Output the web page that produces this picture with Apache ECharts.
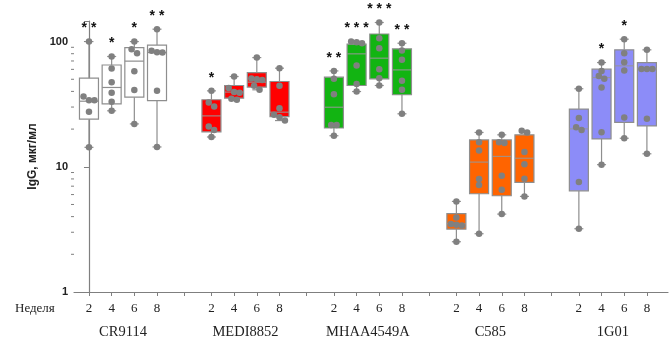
<!DOCTYPE html>
<html><head><meta charset="utf-8">
<script src="https://cdn.jsdelivr.net/npm/echarts@6/dist/echarts.min.js"></script>
<style>html,body{margin:0;padding:0;background:#fff}#c{width:669px;height:340px}</style>
</head><body><div id="c"></div>
<script>
// ---------- data ----------
const groups = ['CR9114', 'MEDI8852', 'MHAA4549A', 'C585', '1G01'];
const weeks = ['2', '4', '6', '8'];
const weekAxisTitle = 'Неделя';
const yAxisTitle = 'IgG, мкг/мл';
const yTickValues = [1, 10, 100];

const cr9114Q1 = [24, 31.8, 36, 33.8];
const cr9114Median = [33.4, 43, 69.8, 81.7];
const cr9114Q3 = [51, 65, 89.6, 93.6];
const cr9114Points = [
  [100, 36.4, 34, 34, 27.5, 14.3],
  [76, 61, 47.4, 39, 33, 28],
  [100, 87, 80.7, 58, 41, 22],
  [125.6, 84.3, 82.3, 81.7, 40.4, 14.4]
];
const cr9114Stars = ['**', '*', '*', '**'];

const medi8852Q1 = [19, 35.3, 43.3, 25.2];
const medi8852Median = [25.5, 39.5, 47.4, 27.3];
const medi8852Q3 = [34.3, 44.6, 56.6, 48];
const medi8852Points = [
  [40.4, 32.6, 30.3, 21, 19.7, 17.3],
  [52.6, 42.5, 39.5, 39, 34.9, 34.3],
  [74.5, 50.7, 50, 49.4, 44.3, 41.2],
  [61.3, 44.3, 29.4, 26, 24.9, 23.4]
];
const medi8852Stars = ['*', '', '', ''];

const mhaa4549aQ1 = [20.4, 44.6, 50.4, 37.6];
const mhaa4549aMedian = [29.9, 79.8, 73.7, 59.4];
const mhaa4549aQ3 = [52, 95.3, 115, 87.5];
const mhaa4549aPoints = [
  [58.3, 50.4, 38, 21.6, 21.6, 17.7],
  [100, 98.9, 97, 64.3, 45.9, 39.9],
  [142, 106.4, 88.5, 60.2, 51, 44.6],
  [97, 84.7, 71.5, 48.6, 41.2, 26.5]
];
const mhaa4549aStars = ['**', '***', '***', '**'];

const c585Q1 = [3.18, 6.09, 5.87, 7.5];
const c585Median = [3.51, 10.9, 12.1, 11.7];
const c585Q3 = [4.22, 16.4, 16.4, 18];
const c585Points = [
  [5.29, 3.94, 3.5, 3.45, 3.4, 2.52],
  [18.8, 15.7, 13.5, 7.98, 7.14, 2.92],
  [18, 15.7, 15.5, 8.47, 6.55, 4.19],
  [19.4, 18.8, 13.1, 10.5, 8.02, 5.8]
];
const c585Stars = ['', '', '', ''];

const g1g01Q1 = [6.43, 16.7, 22.6, 21.2];
const g1g01Median = [20.1, 51.6, 64, 60.5];
const g1g01Q3 = [28.9, 60.2, 85.9, 68];
const g1g01Points = [
  [42, 24.5, 20.7, 19.7, 7.55, 3.2],
  [68, 58.3, 53.2, 50.4, 42.9, 18.9, 10.4],
  [104.5, 80.7, 68.5, 58.7, 24.7, 16.9],
  [85.9, 60.5, 60.5, 60.5, 24.2, 12.7]
];
const g1g01Stars = ['', '*', '*', ''];

// ---------- styles / layout ----------
const fills = ['#ffffff', '#ff0000', '#12b412', '#ff6400', '#8c8cf8'];
const GROUP_STEP = 5.4;       // distance between first boxes of groups (in week-slot units)
const GAP_TICK = 4.2;         // extra tick between groups
const JITTER = 0.24;          // horizontal spread of overlapping points (slot units)
const BOX_HALF = 9.5;         // px
const CAP_HALF = 4.5;         // px

const groupData = [
  [cr9114Q1, cr9114Median, cr9114Q3, cr9114Points, cr9114Stars],
  [medi8852Q1, medi8852Median, medi8852Q3, medi8852Points, medi8852Stars],
  [mhaa4549aQ1, mhaa4549aMedian, mhaa4549aQ3, mhaa4549aPoints, mhaa4549aStars],
  [c585Q1, c585Median, c585Q3, c585Points, c585Stars],
  [g1g01Q1, g1g01Median, g1g01Q3, g1g01Points, g1g01Stars]
];

const pos = (g, k) => +(g * GROUP_STEP + k).toFixed(3);

const boxData = [], pointData = [], starData = [];
const weekPositions = [], tickPositions = [], labelMap = {};
groupData.forEach((gd, g) => {
  const [q1, med, q3, pts, stars] = gd;
  weeks.forEach((w, k) => {
    const x = pos(g, k);
    weekPositions.push(x); tickPositions.push(x);
    labelMap[x.toFixed(2)] = w;
    const p = pts[k];
    const mn = Math.min(...p), mx = Math.max(...p);
    boxData.push([x, q1[k], med[k], q3[k], mn, mx, g]);
    if (stars[k]) starData.push([x, mx, stars[k].split('').join(' ')]);
    // spread near-equal points horizontally
    const sorted = p.slice().sort((a, b) => b - a);
    let i = 0;
    while (i < sorted.length) {
      let j = i + 1;
      while (j < sorted.length && Math.log10(sorted[j - 1]) - Math.log10(sorted[j]) < 0.035) j++;
      const n = j - i;
      for (let t = i; t < j; t++) {
        pointData.push([x + (t - i - (n - 1) / 2) * JITTER, sorted[t]]);
      }
      i = j;
    }
  });
  if (g < groups.length - 1) tickPositions.push(+(g * GROUP_STEP + GAP_TICK).toFixed(3));
});
const groupCenters = groups.map((_, g) => pos(g, 1.5));
const groupLabelMap = {};
groups.forEach((n, g) => groupLabelMap[groupCenters[g].toFixed(2)] = n);

const minorTickValues = [];
[1, 10, 100].forEach(d => { for (let m = 2; m <= 9; m++) if (d * m <= 146) minorTickValues.push(d * m); });

const X_MIN = -0.66, X_MAX = 25.53;
const axisColor = '#7f7f7f';

const chart = echarts.init(document.getElementById('c'), null, { renderer: 'canvas' });
chart.setOption({
  animation: false,
  backgroundColor: '#fff',
  grid: { left: 74, right: 1, top: 21, bottom: 48, containLabel: false },
  xAxis: [{
    type: 'value', min: X_MIN, max: X_MAX,
    splitLine: { show: false },
    axisLine: { show: true, lineStyle: { color: axisColor, width: 1.2 } },
    axisTick: { show: true, inside: false, length: 4, customValues: tickPositions, lineStyle: { color: axisColor } },
    axisLabel: {
      customValues: weekPositions, margin: 10,
      formatter: v => labelMap[(+v).toFixed(2)] || '',
      fontFamily: 'Liberation Serif', fontSize: 13, color: '#222'
    }
  }, {
    type: 'value', min: X_MIN, max: X_MAX, position: 'bottom',
    splitLine: { show: false }, axisLine: { show: false }, axisTick: { show: false },
    axisLabel: {
      customValues: groupCenters, margin: 33,
      formatter: v => groupLabelMap[(+v).toFixed(2)] || '',
      fontFamily: 'Liberation Serif', fontSize: 14.5, color: '#222'
    }
  }],
  yAxis: {
    type: 'log', logBase: 10, min: 1, max: 146,
    splitLine: { show: false }, minorTick: { show: false },
    axisLine: { show: true, lineStyle: { color: axisColor, width: 1.2 } },
    axisTick: { show: true, inside: false, length: 5, lineStyle: { color: axisColor } },
    axisLabel: {
      margin: 6, fontFamily: 'Liberation Sans', fontWeight: 'bold', fontSize: 11, color: '#222',
      formatter: v => yTickValues.includes(+v) ? String(v) : ''
    },
    name: yAxisTitle, nameLocation: 'middle', nameGap: 34, nameRotate: 90,
    nameTextStyle: { fontFamily: 'Liberation Sans', fontWeight: 'bold', fontSize: 12, color: '#222' }
  },
  graphic: [{
    type: 'text', left: 15, top: 302,
    style: { text: weekAxisTitle, font: '13px "Liberation Serif"', fill: '#222' }
  }],
  series: [
    {
      type: 'custom', name: 'minorTicks', clip: false, silent: true, z: 1,
      data: minorTickValues.map(v => [X_MIN, v]),
      renderItem: (params, api) => {
        const p = api.coord([api.value(0), api.value(1)]);
        return { type: 'line', shape: { x1: p[0] - 3, y1: p[1], x2: p[0], y2: p[1] }, style: { stroke: axisColor, lineWidth: 1 } };
      }
    },
    {
      type: 'custom', name: 'boxes', z: 2, clip: false,
      data: boxData,
      renderItem: (params, api) => {
        const x = api.value(0);
        const g = api.value(6);
        const pQ1 = api.coord([x, api.value(1)]);
        const pMed = api.coord([x, api.value(2)]);
        const pQ3 = api.coord([x, api.value(3)]);
        const pMin = api.coord([x, api.value(4)]);
        const pMax = api.coord([x, api.value(5)]);
        const cx = pQ1[0];
        const wStyle = { stroke: '#8e8e8e', lineWidth: 1.2 };
        return {
          type: 'group',
          children: [
            { type: 'line', shape: { x1: cx, y1: pMax[1], x2: cx, y2: pQ3[1] }, style: wStyle },
            { type: 'line', shape: { x1: cx, y1: pQ1[1], x2: cx, y2: pMin[1] }, style: wStyle },
            { type: 'line', shape: { x1: cx - CAP_HALF, y1: pMax[1], x2: cx + CAP_HALF, y2: pMax[1] }, style: wStyle },
            { type: 'line', shape: { x1: cx - CAP_HALF, y1: pMin[1], x2: cx + CAP_HALF, y2: pMin[1] }, style: wStyle },
            { type: 'rect', shape: { x: cx - BOX_HALF, y: pQ3[1], width: BOX_HALF * 2, height: pQ1[1] - pQ3[1] },
              style: { fill: fills[g], stroke: '#8e8e8e', lineWidth: 1.2 } },
            { type: 'line', shape: { x1: cx - BOX_HALF, y1: pMed[1], x2: cx + BOX_HALF, y2: pMed[1] },
              style: { stroke: g === 0 ? '#8e8e8e' : 'rgba(150,150,150,0.85)', lineWidth: 1.2 } }
          ]
        };
      }
    },
    {
      type: 'scatter', name: 'points', z: 3,
      data: pointData, symbol: 'circle', symbolSize: 6.5,
      itemStyle: { color: '#808080', opacity: 1 }
    },
    {
      type: 'custom', name: 'stars', z: 4, clip: false,
      data: starData,
      renderItem: (params, api) => {
        const p = api.coord([api.value(0), api.value(1)]);
        return {
          type: 'text',
          style: { text: api.value(2), x: p[0], y: p[1] - 13, align: 'center', verticalAlign: 'middle',
            font: 'bold 14px "Liberation Sans"', fill: '#111' }
        };
      }
    }
  ]
});
</script></body></html>
